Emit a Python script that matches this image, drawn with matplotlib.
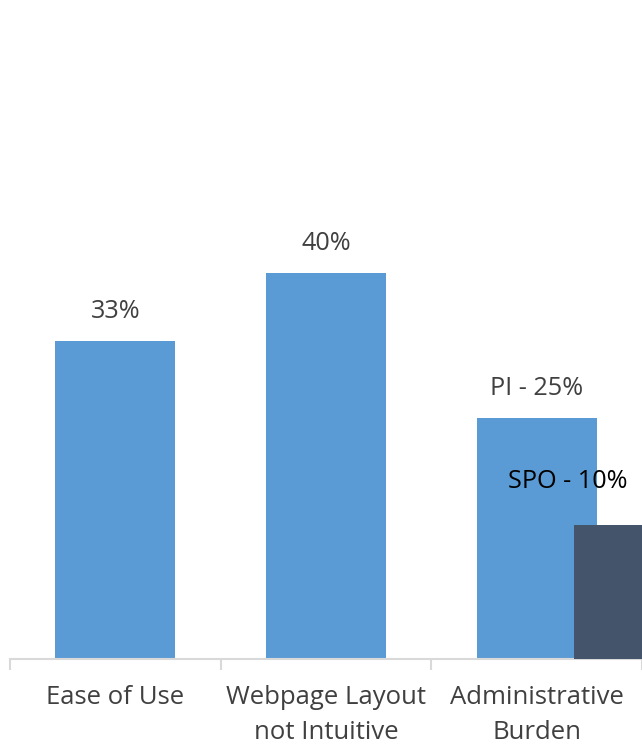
import matplotlib.pyplot as plt

# data
categories = ['Ease of Use', 'Webpage Layout\nnot Intuitive', 'Administrative\nBurden']
pi_values = [33, 40, 25]
pi_labels = ['33%', '40%', 'PI - 25%']
spo_value = 10
spo_label = 'SPO - 10%'

plt.rcParams['font.family'] = ['Open Sans', 'DejaVu Sans']
txt_col = '#404040'
axis_col = '#d9d9d9'

fig = plt.figure(figsize=(6.42, 7.45), dpi=100)
# baseline at 659 px from top, axes starts at 10 px from left
ax = fig.add_axes([10 / 642, 86 / 745, 632 / 642, 659 / 745])
ax2 = ax.twinx()

x = list(range(len(categories)))
w = 0.571
bars = ax.bar(x, pi_values, width=w, color='#5B9BD5', zorder=2)

# secondary series sits beside the last category
spo_x = 2 + 0.179 + w / 2
spo_bar = ax2.bar([spo_x], [spo_value], width=w, color='#44546A', zorder=3)

ax.set_xlim(-0.5, 2.455)
ax.set_ylim(0, 68.3)
ax2.set_ylim(0, 49.2)

for b, v, lab in zip(bars, pi_values, pi_labels):
    ax.annotate(lab, (b.get_x() + b.get_width() / 2, v), xytext=(0, 17),
                textcoords='offset pixels', ha='center', va='bottom',
                fontsize=18.2, color=txt_col)

ax2.annotate(spo_label, (spo_x, spo_value), xytext=(-67, 31),
             textcoords='offset pixels', ha='center', va='bottom',
             fontsize=18.2, color='black')

for a in (ax, ax2):
    for s in ['top', 'left', 'right']:
        a.spines[s].set_visible(False)
    a.set_yticks([])
ax2.spines['bottom'].set_visible(False)
ax.spines['bottom'].set_color(axis_col)
ax.spines['bottom'].set_linewidth(1.5)

ax.set_xticks(x)
ax.set_xticklabels(categories, fontsize=18.5, color=txt_col, linespacing=1.5)
ax.tick_params(axis='x', which='major', length=0, pad=19)
ax.set_xticks([-0.5, 0.5, 1.5, 2.5], minor=True)
ax.tick_params(axis='x', which='minor', length=8, width=1.5, color=axis_col)

fig.savefig('out.png', dpi=100)
